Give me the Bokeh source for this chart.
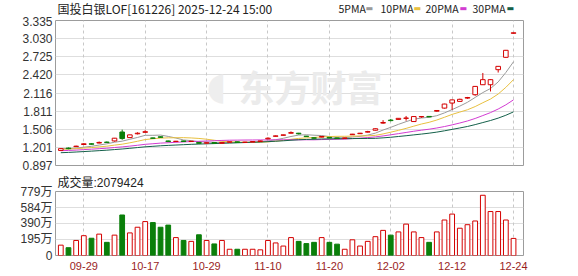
import numpy as np
import pandas as pd
from bokeh.plotting import figure
from bokeh.layouts import column
from bokeh.models import ColumnDataSource, FixedTicker, Range1d, Grid, Label
from bokeh.embed import file_html
from bokeh.resources import INLINE

# ---------------- data ----------------
title_text = "国投白银LOF[161226] 2025-12-24 15:00"
dates = ["09-24", "09-25", "09-26", "09-29", "09-30", "10-09", "10-10", "10-13", "10-14", "10-15", "10-16", "10-17",
         "10-20", "10-21", "10-22", "10-23", "10-24", "10-27", "10-28", "10-29", "10-30", "10-31",
         "11-03", "11-04", "11-05", "11-06", "11-07", "11-10", "11-11", "11-12", "11-13", "11-14",
         "11-17", "11-18", "11-19", "11-20", "11-21", "11-24", "11-25", "11-26", "11-27", "11-28",
         "12-01", "12-02", "12-03", "12-04", "12-05", "12-08", "12-09", "12-10", "12-11", "12-12",
         "12-15", "12-16", "12-17", "12-18", "12-19", "12-22", "12-23", "12-24"]
tick_dates = ["09-29", "10-17", "10-29", "11-10", "11-20", "12-02", "12-12", "12-24"]

open_ = [1.150, 1.190, 1.215, 1.250, 1.262, 1.275, 1.290, 1.310, 1.460, 1.366, 1.430, 1.455,
         1.360, 1.380, 1.310, 1.300, 1.310, 1.300, 1.285, 1.272, 1.282, 1.270,
         1.288, 1.295, 1.285, 1.290, 1.300, 1.345, 1.388, 1.405, 1.440, 1.440,
         1.390, 1.362, 1.375, 1.370, 1.360, 1.352, 1.415, 1.432, 1.458, 1.490,
         1.610, 1.660, 1.672, 1.690, 1.636, 1.715, 1.722, 1.810, 1.862, 1.947,
         1.975, 2.030, 2.087, 2.255, 2.255, 2.508, 2.716, 3.120]
high = [1.190, 1.200, 1.230, 1.275, 1.270, 1.300, 1.300, 1.360, 1.500, 1.415, 1.455, 1.490,
        1.365, 1.385, 1.315, 1.310, 1.312, 1.310, 1.290, 1.285, 1.285, 1.290,
        1.298, 1.298, 1.295, 1.302, 1.315, 1.370, 1.400, 1.415, 1.470, 1.445,
        1.395, 1.366, 1.390, 1.375, 1.362, 1.365, 1.428, 1.445, 1.480, 1.520,
        1.660, 1.680, 1.695, 1.730, 1.725, 1.725, 1.726, 1.830, 1.935, 2.005,
        2.020, 2.050, 2.230, 2.453, 2.345, 2.570, 2.840, 3.130]
low = [1.140, 1.170, 1.210, 1.245, 1.250, 1.270, 1.275, 1.300, 1.330, 1.360, 1.420, 1.450,
       1.345, 1.365, 1.290, 1.295, 1.298, 1.295, 1.265, 1.268, 1.265, 1.265,
       1.285, 1.282, 1.282, 1.288, 1.298, 1.340, 1.385, 1.400, 1.435, 1.420,
       1.378, 1.350, 1.370, 1.355, 1.345, 1.350, 1.410, 1.430, 1.450, 1.485,
       1.600, 1.640, 1.665, 1.650, 1.630, 1.700, 1.710, 1.800, 1.855, 1.833,
       1.965, 2.020, 2.070, 2.250, 2.142, 2.460, 2.710, 3.115]
close = [1.180, 1.180, 1.222, 1.262, 1.255, 1.285, 1.285, 1.356, 1.350, 1.412, 1.440, 1.465,
         1.355, 1.370, 1.300, 1.305, 1.300, 1.305, 1.270, 1.280, 1.270, 1.285,
         1.295, 1.285, 1.290, 1.300, 1.310, 1.356, 1.395, 1.412, 1.450, 1.430,
         1.383, 1.356, 1.385, 1.360, 1.350, 1.360, 1.424, 1.440, 1.467, 1.515,
         1.620, 1.652, 1.690, 1.695, 1.720, 1.720, 1.715, 1.822, 1.930, 2.000,
         2.010, 2.040, 2.227, 2.340, 2.340, 2.564, 2.834, 3.128]
# closes of the 29 sessions before the window (estimated from the MA levels at the left edge)
prior_close = [1.02, 1.03, 1.03, 1.04, 1.04, 1.05, 1.05, 1.06, 1.06, 1.07,
               1.09, 1.10, 1.10, 1.11, 1.12, 1.12, 1.13, 1.14, 1.15, 1.15,
               1.15, 1.16, 1.16, 1.17, 1.16, 1.17, 1.18, 1.19, 1.18]
# volume in 万 (10k shares)
volume_wan = [126, 95, 183, 241, 210, 260, 160, 248, 493, 275, 344, 413,
              401, 344, 370, 218, 183, 172, 252, 183, 141, 183,
              76, 76, 76, 76, 69, 183, 153, 115, 218, 172,
              145, 160, 218, 160, 138, 76, 191, 115, 172, 229,
              306, 248, 287, 382, 287, 218, 160, 287, 432, 504,
              332, 375, 420, 733, 535, 535, 432, 207.9424]

price_ticks = [0.897, 1.201, 1.506, 1.811, 2.116, 2.420, 2.725, 3.030, 3.335]
price_tick_labels = ["0.897", "1.201", "1.506", "1.811", "2.116", "2.420", "2.725", "3.030", "3.335"]
vol_ticks_wan = [0, 195, 390, 584, 779]
vol_tick_labels = ["0", "195万", "390万", "584万", "779万"]

ma_periods = [5, 10, 20, 30]
ma_names = ["5PMA", "10PMA", "20PMA", "30PMA"]
ma_colors = ["#9a9a9a", "#e8c040", "#d23cd2", "#14604a"]

# ---------------- styling ----------------
RED = "#d40000"
GREEN = "#0a7f0a"
GRID = "#dedede"
VGRID = "#c8c8c8"
FRAME = "#9c9c9c"
CJK = "Noto Sans CJK SC"
W = 578
BL, BR = 55, 55          # left / right borders shared by every panel

n = len(close)
x = np.arange(n)
o = np.array(open_); c = np.array(close); h = np.array(high); l = np.array(low)
prev = np.concatenate([[prior_close[-1]], c[:-1]])
up = (c > o) | ((c == o) & (c >= prev))
colors = np.where(up, RED, GREEN)
fills = np.where(up, "white", GREEN)
vol = np.array(volume_wan) * 1e4

all_close = pd.Series(prior_close + close)
ma_vals = {p: all_close.rolling(p).mean().to_numpy()[len(prior_close):] for p in ma_periods}

src = ColumnDataSource(dict(x=x, top=np.maximum(o, c), bottom=np.minimum(o, c), high=h, low=l,
                            color=colors, fill=fills, vol=vol))

tick_idx = [dates.index(d) for d in tick_dates]
xr = Range1d(-0.69, n + 0.3)

# ---------------- header strip (title + MA legend), pixel coordinates ----------------
HH = 16
hd = figure(width=W, height=HH, output_backend="svg", toolbar_location=None,
            x_range=Range1d(BL, W - BR), y_range=Range1d(0, HH),
            x_axis_location=None, y_axis_location=None,
            min_border_left=BL, min_border_right=BR, min_border_top=0, min_border_bottom=0)
hd.outline_line_color = None
hd.xgrid.visible = False
hd.ygrid.visible = False
hd.add_layout(Label(x=57, y=HH - 8, text=title_text, text_font=CJK, text_font_size="12px",
                    text_color="#222222", text_baseline="middle"))
leg_x = [338, 380, 425, 472]
sw_x = [365, 413, 459, 506]
for lx, sx, name, col in zip(leg_x, sw_x, ma_names, ma_colors):
    hd.add_layout(Label(x=lx, y=HH - 8, text=name, text_font=CJK, text_font_size="10.5px",
                        text_color="#222222", text_baseline="middle"))
    hd.add_layout(Label(x=sx, y=HH - 8, text="▬", text_font="DejaVu Sans", text_font_size="8px",
                        text_color=col, text_baseline="middle"))

# ---------------- price panel ----------------
p = figure(width=W, height=156, output_backend="svg", toolbar_location=None,
           x_range=xr, y_range=Range1d(price_ticks[0], price_ticks[-1]),
           x_axis_location=None, min_border_left=BL, min_border_right=BR,
           min_border_top=4, min_border_bottom=7)
p.outline_line_color = FRAME
p.xgrid.visible = False
p.ygrid.visible = False
p.add_layout(Grid(dimension=1, ticker=FixedTicker(ticks=price_ticks), grid_line_color=GRID))
p.add_layout(Grid(dimension=0, ticker=FixedTicker(ticks=tick_idx), grid_line_color=VGRID,
                  grid_line_dash="3 3"))

ya = p.yaxis[0]
ya.ticker = FixedTicker(ticks=price_ticks)
ya.major_label_overrides = {t: s for t, s in zip(price_ticks, price_tick_labels)}
ya.axis_line_color = None
ya.major_tick_line_color = None
ya.minor_tick_line_color = None
ya.major_tick_out = 0
ya.major_label_standoff = 3
ya.major_label_text_font = "Liberation Sans"
ya.major_label_text_font_size = "12px"
ya.major_label_text_color = "#333333"

# watermark
p.add_layout(Label(x=255, y=80, x_units="screen", y_units="screen", text="东方财富",
                   text_font=CJK, text_font_size="36px", text_font_style="bold",
                   text_color="#ebebeb", text_align="center", text_baseline="middle",
                   level="underlay"))
p.add_layout(Label(x=161, y=80, x_units="screen", y_units="screen", text="◖",
                   text_font="DejaVu Sans", text_font_size="38px",
                   text_color="#eeeeee", text_align="center", text_baseline="middle",
                   level="underlay"))

for per, col in zip(ma_periods, ma_colors):
    p.line(x, ma_vals[per], line_color=col, line_width=1)

p.segment(x0="x", x1="x", y0="low", y1="high", color="color", line_width=1, source=src)
p.vbar(x="x", top="top", bottom="bottom", width=0.6, fill_color="fill", line_color="color",
       line_width=1, source=src)

# ---------------- volume panel ----------------
v = figure(width=W, height=104, output_backend="svg", toolbar_location=None,
           x_range=xr, y_range=Range1d(0, vol_ticks_wan[-1] * 1e4),
           title="成交量:" + str(int(round(vol[-1]))),
           min_border_left=BL, min_border_right=BR, min_border_top=15, min_border_bottom=21)
v.title.align = "left"
v.title.offset = 2
v.title.standoff = 3
v.title.text_font = "Liberation Sans, Noto Sans CJK SC"
v.title.text_font_size = "12px"
v.title.text_font_style = "normal"
v.title.text_color = "#222222"
v.outline_line_color = FRAME
v.xgrid.visible = False
v.ygrid.visible = False
vt = [t * 1e4 for t in vol_ticks_wan]
v.add_layout(Grid(dimension=1, ticker=FixedTicker(ticks=vt), grid_line_color=GRID))
v.add_layout(Grid(dimension=0, ticker=FixedTicker(ticks=tick_idx), grid_line_color=VGRID,
                  grid_line_dash="3 3"))
vy = v.yaxis[0]
vy.ticker = FixedTicker(ticks=vt)
vy.major_label_overrides = {t: s for t, s in zip(vt, vol_tick_labels)}
vy.axis_line_color = None
vy.major_tick_line_color = None
vy.minor_tick_line_color = None
vy.major_tick_out = 0
vy.major_label_standoff = 3
vy.major_label_text_font = "Liberation Sans, Noto Sans CJK SC"
vy.major_label_text_font_size = "12px"
vy.major_label_text_color = "#333333"

vx = v.xaxis[0]
vx.ticker = FixedTicker(ticks=tick_idx)
vx.major_label_overrides = {i: d for i, d in zip(tick_idx, tick_dates)}
vx.axis_line_color = None
vx.major_tick_line_color = None
vx.minor_tick_line_color = None
vx.major_tick_out = 0
vx.major_label_standoff = 6
vx.major_label_text_font = "Liberation Sans"
vx.major_label_text_font_size = "11px"
vx.major_label_text_color = "#9a1e1e"

v.vbar(x="x", top="vol", bottom=0, width=0.62, fill_color="fill", line_color="color",
       line_width=1, source=src)

layout = column(hd, p, v, spacing=0)
open("out.html", "w").write(file_html(layout, INLINE))
